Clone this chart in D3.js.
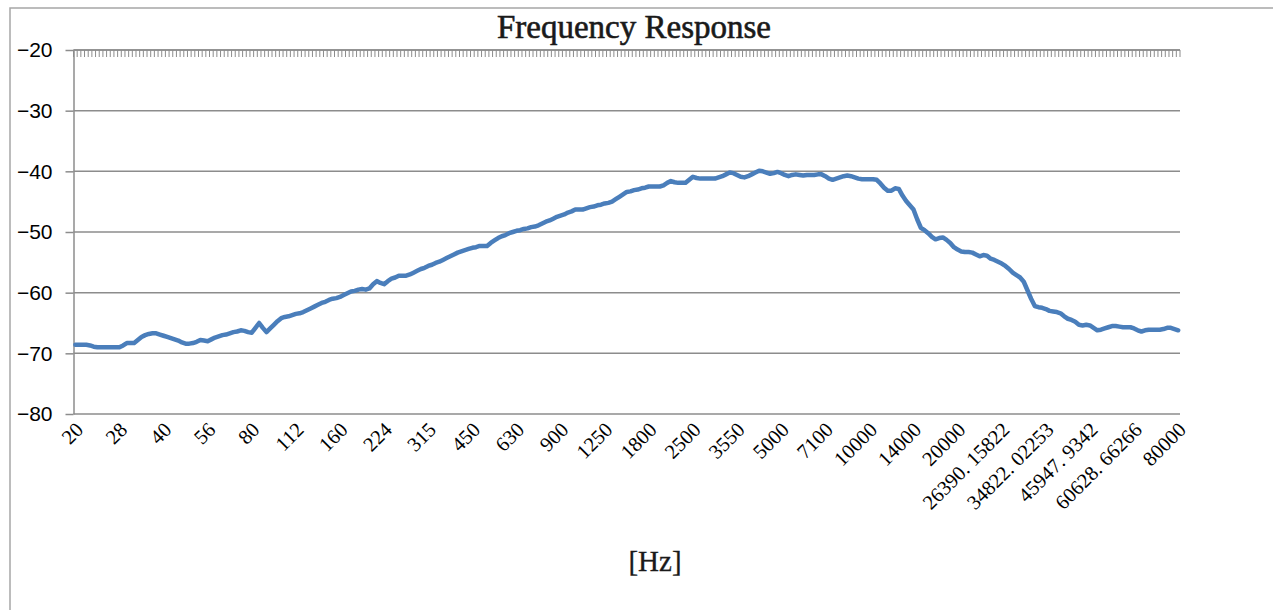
<!DOCTYPE html>
<html>
<head>
<meta charset="utf-8">
<script src="https://cdn.jsdelivr.net/npm/d3@7"></script>
<style>
  html, body { margin: 0; padding: 0; background: #fff; }
  svg { display: block; }
</style>
</head>
<body>
<svg id="chart" width="1273" height="610"></svg>
<script>
// ---- DATA ----
const title = "Frequency Response";
const xAxisTitle = "[Hz]";
const tickLabels = ["20","28","40","56","80","112","160","224","315","450","630","900","1250","1800","2500","3550","5000","7100","10000","14000","20000","26390. 15822","34822. 02253","45947. 9342","60628. 66266","80000"];
const labelStep = 12; // one tick label every 12 categories
const yTicks = [-80,-70,-60,-50,-40,-30,-20];
const values = [
 -68.6,-68.6,-68.6,-68.6,-68.7,-68.9,-69.0,-69.0,-69.0,-69.0,-69.0,-69.0,
 -69.0,-68.7,-68.3,-68.3,-68.3,-67.8,-67.3,-67.0,-66.8,-66.7,-66.7,-66.9,
 -67.1,-67.3,-67.5,-67.7,-67.9,-68.2,-68.4,-68.4,-68.3,-68.1,-67.8,-67.9,
 -68.0,-67.7,-67.4,-67.2,-67.0,-66.9,-66.7,-66.5,-66.4,-66.2,-66.3,-66.5,
 -66.6,-65.8,-65.0,-65.8,-66.5,-65.9,-65.3,-64.7,-64.2,-64.0,-63.9,-63.7,
 -63.5,-63.4,-63.2,-62.9,-62.6,-62.3,-62.0,-61.7,-61.5,-61.2,-61.0,-60.9,
 -60.7,-60.4,-60.1,-59.8,-59.7,-59.5,-59.4,-59.5,-59.3,-58.6,-58.1,-58.4,
 -58.6,-58.1,-57.7,-57.5,-57.2,-57.2,-57.2,-57.0,-56.7,-56.4,-56.1,-55.9,
 -55.6,-55.4,-55.1,-54.9,-54.6,-54.3,-54.0,-53.7,-53.4,-53.2,-53.0,-52.8,
 -52.6,-52.5,-52.3,-52.3,-52.3,-51.8,-51.4,-51.0,-50.7,-50.5,-50.2,-50.0,
 -49.8,-49.7,-49.5,-49.4,-49.2,-49.1,-48.9,-48.6,-48.3,-48.1,-47.8,-47.5,
 -47.3,-47.1,-46.8,-46.6,-46.3,-46.3,-46.3,-46.1,-45.9,-45.8,-45.6,-45.5,
 -45.3,-45.2,-45.0,-44.6,-44.2,-43.8,-43.4,-43.3,-43.1,-43.0,-42.8,-42.7,
 -42.5,-42.5,-42.5,-42.5,-42.3,-41.9,-41.6,-41.8,-41.9,-41.9,-41.9,-41.4,
 -40.9,-41.1,-41.2,-41.2,-41.2,-41.2,-41.2,-41.0,-40.8,-40.5,-40.2,-40.3,
 -40.6,-40.9,-41.0,-40.8,-40.5,-40.2,-39.9,-40.0,-40.2,-40.4,-40.3,-40.1,
 -40.3,-40.6,-40.8,-40.6,-40.5,-40.6,-40.7,-40.6,-40.6,-40.6,-40.5,-40.5,
 -40.8,-41.2,-41.4,-41.2,-41.0,-40.8,-40.7,-40.8,-41.0,-41.2,-41.3,-41.3,
 -41.3,-41.3,-41.4,-42.0,-42.7,-43.2,-43.2,-42.8,-42.9,-44.0,-44.9,-45.6,
 -46.3,-47.9,-49.3,-49.7,-50.2,-50.8,-51.2,-51.0,-50.9,-51.3,-51.8,-52.5,
 -52.9,-53.2,-53.3,-53.3,-53.4,-53.7,-54.0,-53.8,-53.9,-54.4,-54.6,-54.9,
 -55.2,-55.6,-56.1,-56.7,-57.1,-57.5,-58.2,-59.6,-61.0,-62.2,-62.4,-62.5,
 -62.7,-63.0,-63.1,-63.2,-63.4,-63.9,-64.3,-64.5,-64.8,-65.3,-65.4,-65.3,
 -65.4,-65.8,-66.2,-66.1,-65.9,-65.7,-65.5,-65.5,-65.6,-65.7,-65.7,-65.7,
 -65.9,-66.2,-66.4,-66.2,-66.1,-66.1,-66.1,-66.1,-66.0,-65.8,-65.8,-66.0,
 -66.2
];

// ---- LAYOUT ----
const plot = { left: 73.5, right: 1180, top: 50, bottom: 414 };
const gridColor = "#8c8c8c";
const lineColor = "#4a7ebb";

const svg = d3.select("#chart");

// chart border
svg.append("rect")
  .attr("x", 10).attr("y", 8)
  .attr("width", 1300).attr("height", 700)
  .attr("fill", "#fff")
  .attr("stroke", "#a6a6a6").attr("stroke-width", 1.5);

const N = values.length;
const x = d3.scaleBand().domain(d3.range(N)).range([plot.left, plot.right]);
const xc = i => x(i) + x.bandwidth() / 2;
const y = d3.scaleLinear().domain([-80, -20]).range([plot.bottom, plot.top]);

// gridlines
svg.append("g").selectAll("line")
  .data(yTicks).join("line")
  .attr("x1", plot.left).attr("x2", plot.right)
  .attr("y1", d => y(d)).attr("y2", d => y(d))
  .attr("stroke", gridColor).attr("stroke-width", 1.5);

// y axis
const yAxis = d3.axisLeft(y).tickValues(yTicks).tickSizeInner(8).tickSizeOuter(0).tickPadding(13);
const yg = svg.append("g").attr("transform", `translate(${plot.left},0)`).call(yAxis);
yg.select(".domain").attr("stroke", gridColor).attr("stroke-width", 1.5);
yg.selectAll(".tick line").attr("stroke", gridColor).attr("stroke-width", 1.5);
yg.selectAll(".tick text")
  .attr("fill", "#000")
  .style("font-family", "'Liberation Sans', Arial, sans-serif")
  .style("font-size", "21px");

// top category axis (ticks at category boundaries, pointing into plot)
const boundaries = d3.range(N + 1).map(i => i < N ? x(i) : plot.right);
svg.append("g").selectAll("line")
  .data(boundaries).join("line")
  .attr("x1", d => d).attr("x2", d => d)
  .attr("y1", plot.top).attr("y2", plot.top + 7)
  .attr("stroke", gridColor).attr("stroke-width", 1);
svg.append("line")
  .attr("x1", plot.left).attr("x2", plot.right)
  .attr("y1", plot.top).attr("y2", plot.top)
  .attr("stroke", gridColor).attr("stroke-width", 1.5);

// x tick labels (rotated)
svg.append("g").selectAll("text")
  .data(tickLabels).join("text")
  .attr("transform", (d, k) => `translate(${xc(k * labelStep) + 4},${plot.bottom + 12}) rotate(-45)`)
  .attr("text-anchor", "end")
  .attr("dy", "0.35em")
  .style("font-family", "'Liberation Serif', 'Times New Roman', serif")
  .style("font-size", "20.5px")
  .attr("fill", "#000")
  .text(d => d);

// line
const line = d3.line()
  .x((d, i) => xc(i))
  .y(d => y(d));
svg.append("path")
  .datum(values)
  .attr("d", line)
  .attr("fill", "none")
  .attr("stroke", lineColor)
  .attr("stroke-width", 4.5)
  .attr("stroke-linejoin", "round")
  .attr("stroke-linecap", "round");

// title
svg.append("text")
  .attr("x", 634).attr("y", 38)
  .attr("text-anchor", "middle")
  .style("font-family", "'Liberation Serif', 'Times New Roman', serif")
  .style("font-size", "33px")
  .attr("fill", "#1a1a1a")
  .attr("stroke", "#1a1a1a").attr("stroke-width", 0.6)
  .text(title);

// x axis title
svg.append("text")
  .attr("x", 655).attr("y", 571)
  .attr("text-anchor", "middle")
  .style("font-family", "'Liberation Serif', 'Times New Roman', serif")
  .style("font-size", "29px")
  .attr("fill", "#1a1a1a")
  .attr("stroke", "#1a1a1a").attr("stroke-width", 0.3)
  .text(xAxisTitle);
</script>
</body>
</html>
